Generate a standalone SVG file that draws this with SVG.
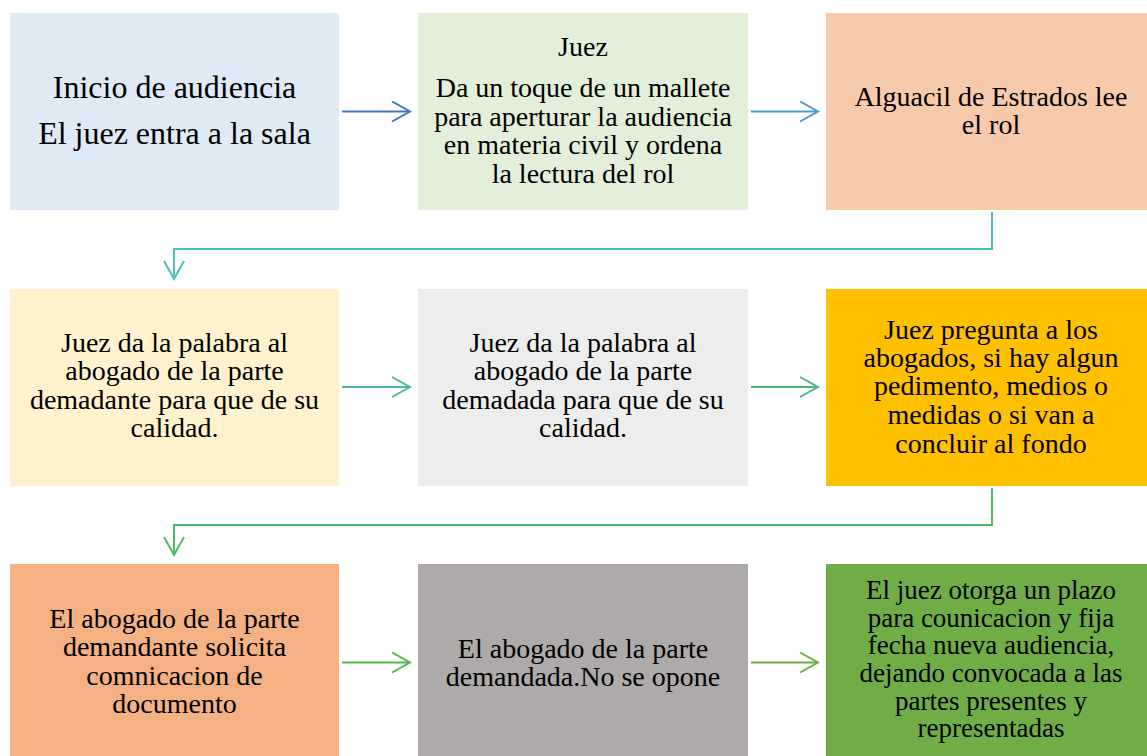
<svg xmlns="http://www.w3.org/2000/svg" width="1147" height="756" viewBox="0 0 1147 756">
<style>
text{font-family:"Liberation Serif","Times New Roman",serif;fill:#000;text-anchor:middle}
.t{font-size:28px}
.s{font-size:27px}
.big{font-size:32px}
.c{fill:none;stroke-width:2}
</style>
<defs>
<marker id="m1" viewBox="0 0 22 22" refX="20" refY="11" markerWidth="22" markerHeight="22" markerUnits="userSpaceOnUse" orient="auto"><path d="M2,1 L20,11 L2,21" fill="none" stroke="#4472C4" stroke-width="2"/></marker>
<marker id="m2" viewBox="0 0 22 22" refX="20" refY="11" markerWidth="22" markerHeight="22" markerUnits="userSpaceOnUse" orient="auto"><path d="M2,1 L20,11 L2,21" fill="none" stroke="#4A9BCF" stroke-width="2"/></marker>
<marker id="m3" viewBox="0 0 22 22" refX="20" refY="11" markerWidth="22" markerHeight="22" markerUnits="userSpaceOnUse" orient="auto"><path d="M2,1 L20,11 L2,21" fill="none" stroke="#4BBDC3" stroke-width="2"/></marker>
<marker id="m4" viewBox="0 0 22 22" refX="20" refY="11" markerWidth="22" markerHeight="22" markerUnits="userSpaceOnUse" orient="auto"><path d="M2,1 L20,11 L2,21" fill="none" stroke="#45BB9C" stroke-width="2"/></marker>
<marker id="m5" viewBox="0 0 22 22" refX="20" refY="11" markerWidth="22" markerHeight="22" markerUnits="userSpaceOnUse" orient="auto"><path d="M2,1 L20,11 L2,21" fill="none" stroke="#4AB97F" stroke-width="2"/></marker>
<marker id="m6" viewBox="0 0 22 22" refX="20" refY="11" markerWidth="22" markerHeight="22" markerUnits="userSpaceOnUse" orient="auto"><path d="M2,1 L20,11 L2,21" fill="none" stroke="#4CBB63" stroke-width="2"/></marker>
<marker id="m7" viewBox="0 0 22 22" refX="20" refY="11" markerWidth="22" markerHeight="22" markerUnits="userSpaceOnUse" orient="auto"><path d="M2,1 L20,11 L2,21" fill="none" stroke="#56B64B" stroke-width="2"/></marker>
<marker id="m8" viewBox="0 0 22 22" refX="20" refY="11" markerWidth="22" markerHeight="22" markerUnits="userSpaceOnUse" orient="auto"><path d="M2,1 L20,11 L2,21" fill="none" stroke="#6AB047" stroke-width="2"/></marker>
</defs>
<rect width="1147" height="756" fill="#FFFFFF"/>

<g id="n1">
<rect x="10" y="13" width="329" height="197" fill="#DEEAF6"/>
<text class="big" x="174.5" y="98">Inicio de audiencia</text>
<text class="big" x="174.5" y="144">El juez entra a la sala</text>
</g>

<g id="n2">
<rect x="418" y="13" width="330" height="197" fill="#E2EFD9"/>
<text class="t" x="583" y="56">Juez</text>
<text class="t" x="583" y="97">Da un toque de un mallete</text>
<text class="t" x="583" y="125.5">para aperturar la audiencia</text>
<text class="t" x="583" y="154">en materia civil y ordena</text>
<text class="t" x="583" y="182.5">la lectura del rol</text>
</g>

<g id="n3">
<rect x="826" y="13" width="330" height="197" fill="#F7CAAC"/>
<text class="t" x="991" y="106">Alguacil de Estrados lee</text>
<text class="t" x="991" y="134">el rol</text>
</g>

<g id="n4">
<rect x="10" y="289" width="329" height="197" fill="#FFF2CC"/>
<text class="t" x="174.5" y="351.5">Juez da la palabra al</text>
<text class="t" x="174.5" y="380">abogado de la parte</text>
<text class="t" x="174.5" y="408.5">demadante para que de su</text>
<text class="t" x="174.5" y="437">calidad.</text>
</g>

<g id="n5">
<rect x="418" y="289" width="330" height="197" fill="#EDEDED"/>
<text class="t" x="583" y="351.5">Juez da la palabra al</text>
<text class="t" x="583" y="380">abogado de la parte</text>
<text class="t" x="583" y="408.5">demadada para que de su</text>
<text class="t" x="583" y="437">calidad.</text>
</g>

<g id="n6">
<rect x="826" y="289" width="330" height="197" fill="#FFC000"/>
<text class="t" x="991" y="339">Juez pregunta a los</text>
<text class="t" x="991" y="367">abogados, si hay algun</text>
<text class="t" x="991" y="395">pedimento, medios o</text>
<text class="t" x="991" y="423.5">medidas o si van a</text>
<text class="t" x="991" y="452.5">concluir al fondo</text>
</g>

<g id="n7">
<rect x="10" y="564" width="329" height="197" fill="#F4B183"/>
<text class="t" x="174.5" y="627.5">El abogado de la parte</text>
<text class="t" x="174.5" y="656">demandante solicita</text>
<text class="t" x="174.5" y="684.5">comnicacion de</text>
<text class="t" x="174.5" y="713">documento</text>
</g>

<g id="n8">
<rect x="418" y="564" width="330" height="197" fill="#AEAAAA"/>
<text class="t" x="583" y="657.5">El abogado de la parte</text>
<text class="t" x="583" y="685.5">demandada.No se opone</text>
</g>

<g id="n9">
<rect x="826" y="564" width="330" height="197" fill="#70AD47"/>
<text class="s" x="991" y="599">El juez otorga un plazo</text>
<text class="s" x="991" y="626.5">para counicacion y fija</text>
<text class="s" x="991" y="654">fecha nueva audiencia,</text>
<text class="s" x="991" y="682">dejando convocada a las</text>
<text class="s" x="991" y="709.5">partes presentes y</text>
<text class="s" x="991" y="737">representadas</text>
</g>

<g id="connectors">
<path class="c" d="M342,111.5 H410" stroke="#4472C4" marker-end="url(#m1)"/>
<path class="c" d="M751,111.5 H818" stroke="#4A9BCF" marker-end="url(#m2)"/>
<path class="c" d="M992,212 V249 H174 V279" stroke="#4BBDC3" marker-end="url(#m3)"/>
<path class="c" d="M342,387 H410" stroke="#45BB9C" marker-end="url(#m4)"/>
<path class="c" d="M751,387 H818" stroke="#4AB97F" marker-end="url(#m5)"/>
<path class="c" d="M992,488 V525 H174 V555" stroke="#4CBB63" marker-end="url(#m6)"/>
<path class="c" d="M342,662.5 H410" stroke="#56B64B" marker-end="url(#m7)"/>
<path class="c" d="M751,662.5 H818" stroke="#6AB047" marker-end="url(#m8)"/>
</g>
</svg>
